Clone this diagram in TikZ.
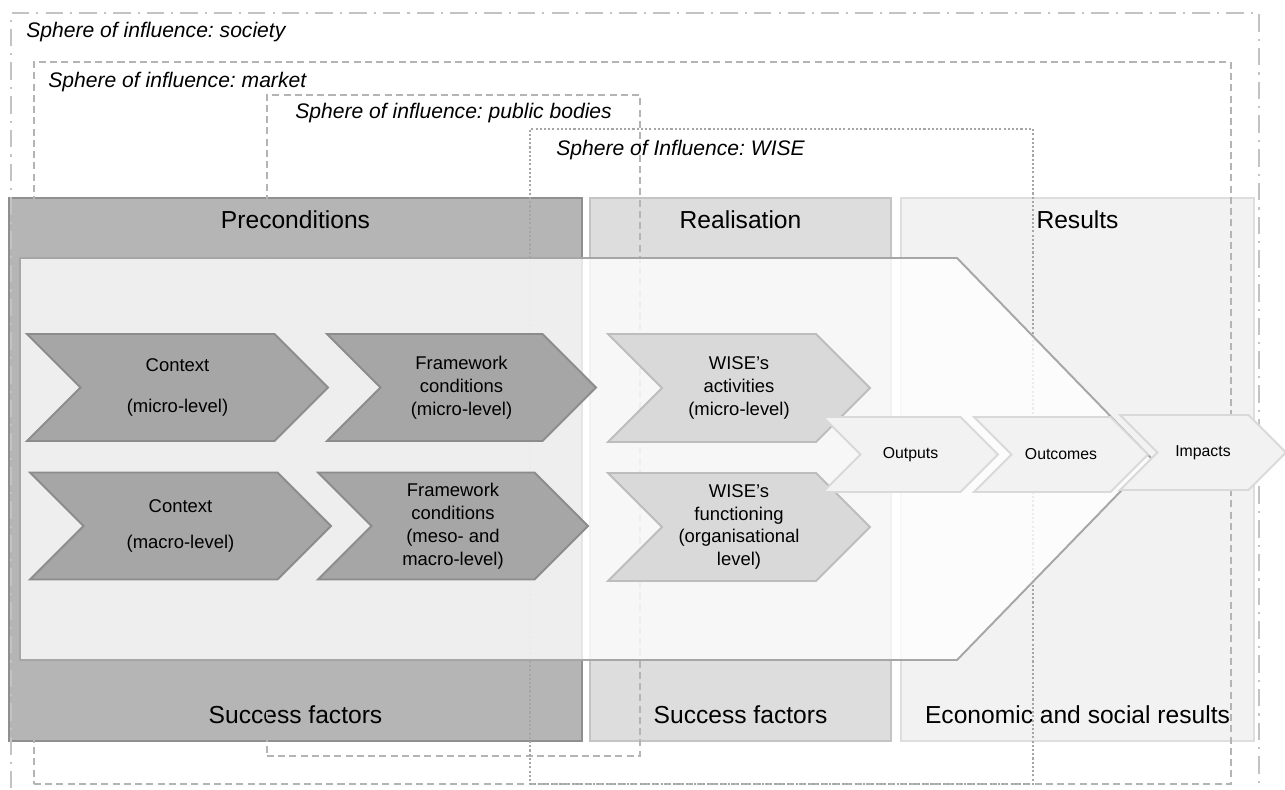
\documentclass[tikz,border=0pt]{standalone}
\usepackage{fontspec}
\setmainfont{Liberation Sans}
\frenchspacing
\usetikzlibrary{positioning,calc,shapes.symbols}
\definecolor{precol}{HTML}{B5B5B5}
\definecolor{prebrd}{HTML}{8F8F8F}
\definecolor{realcol}{HTML}{DDDDDD}
\definecolor{realbrd}{HTML}{C4C4C4}
\definecolor{rescol}{HTML}{F2F2F2}
\definecolor{resbrd}{HTML}{DEDEDE}
\definecolor{chvdark}{HTML}{A6A6A6}
\definecolor{chvdarkbrd}{HTML}{8C8C8C}
\definecolor{chvmid}{HTML}{D9D9D9}
\definecolor{chvmidbrd}{HTML}{BDBDBD}
\definecolor{chvlight}{HTML}{F2F2F2}
\definecolor{chvlightbrd}{HTML}{D9D9D9}
\definecolor{sphline}{HTML}{B4B4B4}
\definecolor{arrbrd}{HTML}{A6A6A6}
\tikzstyle{colbox}=[rectangle, line width=1.2pt, minimum height=10.86cm, anchor=north west, inner sep=0pt]
\tikzstyle{prebox}=[colbox, draw=prebrd, fill=precol]
\tikzstyle{realbox}=[colbox, draw=realbrd, fill=realcol]
\tikzstyle{resbox}=[colbox, draw=resbrd, fill=rescol]
\tikzstyle{hdtext}=[font=\fontsize{14}{16}\selectfont, inner sep=0pt]
\tikzstyle{sphbox}=[rectangle, draw=sphline, line width=1pt, anchor=north west, inner sep=0pt]
\tikzstyle{sphlbl}=[font=\fontsize{12}{14}\selectfont\itshape, anchor=west, inner sep=0pt]
\tikzstyle{chev}=[signal, signal from=west, signal to=east, line width=1.1pt, inner sep=0pt,
                  align=center, font=\fontsize{10.5}{13}\selectfont]
\tikzstyle{darkchev}=[chev, draw=chvdarkbrd, fill=chvdark, minimum height=2.14cm]
\tikzstyle{midchev}=[chev, draw=chvmidbrd, fill=chvmid, minimum height=2.16cm, minimum width=5.24cm]
\tikzstyle{lightchev}=[chev, draw=chvlightbrd, fill=chvlight, minimum height=1.5cm,
                  font=\fontsize{9}{11}\selectfont]
\begin{document}
\begin{tikzpicture}[x=0.02cm,y=-0.02cm]
\useasboundingbox[fill=white] (0,0) rectangle (1285,790);

% columns
\node (PRE) [prebox, minimum width=11.46cm] at (8,197) {};
\node (PREhd) [hdtext] at ($(PRE.north)+(0,23)$) {Preconditions};
\node (PREft) [hdtext] at ($(PRE.south)+(0,-27)$) {Success factors};
\node (REAL) [realbox, minimum width=6.02cm] at (589,197) {};
\node (REALhd) [hdtext] at ($(REAL.north)+(0,23)$) {Realisation};
\node (REALft) [hdtext] at ($(REAL.south)+(0,-27)$) {Success factors};
\node (RES) [resbox, minimum width=7.06cm] at (900,197) {};
\node (REShd) [hdtext] at ($(RES.north)+(0,23)$) {Results};
\node (RESft) [hdtext] at ($(RES.south)+(0,-27)$) {Economic and social results};

% spheres of influence
\node (SOCS) [sphbox, draw=sphline!80, line width=1.3pt, dash pattern=on 10pt off 4pt on 1.2pt off 4pt,
  minimum width=24.96cm, minimum height=15.9cm] at (10,12) {};
\node (SOCSlbl) [sphlbl] at ($(SOCS.north west)+(16,20)$) {Sphere of influence: society};
\node (MKTS) [sphbox, dash pattern=on 4pt off 2.4pt,
  minimum width=23.94cm, minimum height=14.44cm] at (33,61) {};
\node (MKTSlbl) [sphlbl] at ($(MKTS.north west)+(15,21)$) {Sphere of influence: market};
\node (PUBS) [sphbox, dash pattern=on 4pt off 2.4pt,
  minimum width=7.46cm, minimum height=13.22cm] at (266,94) {};
\node (PUBSlbl) [sphlbl] at ($(PUBS.north west)+(29,19)$) {Sphere of influence: public bodies};
\node (WISES) [sphbox, draw=chvdark, dash pattern=on 1.2pt off 1.2pt,
  minimum width=10.06cm, minimum height=13.1cm] at (529,128) {};
\node (WISESlbl) [sphlbl] at ($(WISES.north west)+(27,22)$) {Sphere of Influence: WISE};

% big arrow
\draw[draw=arrbrd, line width=1.1pt, fill=white, fill opacity=0.78]
  (20,258) -- (957,258) -- (1152,459) -- (957,660) -- (20,660) -- cycle;

% chevrons
\node (CTXMI) [darkchev, minimum width=6.02cm] at (177.5,387.5) {Context\\[10pt](micro-level)};
\node (FWMI) [darkchev, minimum width=5.38cm] at (461.5,387.5) {Framework\\conditions\\(micro-level)};
\node (CTXMA) [darkchev, minimum width=6.02cm] at (180.5,526) {Context\\[8pt](macro-level)};
\node (FWMA) [darkchev, minimum width=5.4cm] at (453,526) {Framework\\conditions\\(meso- and\\macro-level)};
\node (WACT) [midchev] at (739,388) {WISE’s\\activities\\(micro-level)};
\node (WFUN) [midchev] at (739,527) {WISE’s\\functioning\\(organisational\\level)};
\node (OUTP) [lightchev, minimum width=3.5cm] at (910.5,454.5) {Outputs};
\node (OUTC) [lightchev, minimum width=3.48cm] at (1061,454.5) {Outcomes};
\node (IMPC) [lightchev, minimum width=3.32cm] at (1203,452.5) {Impacts};

\end{tikzpicture}
\end{document}
